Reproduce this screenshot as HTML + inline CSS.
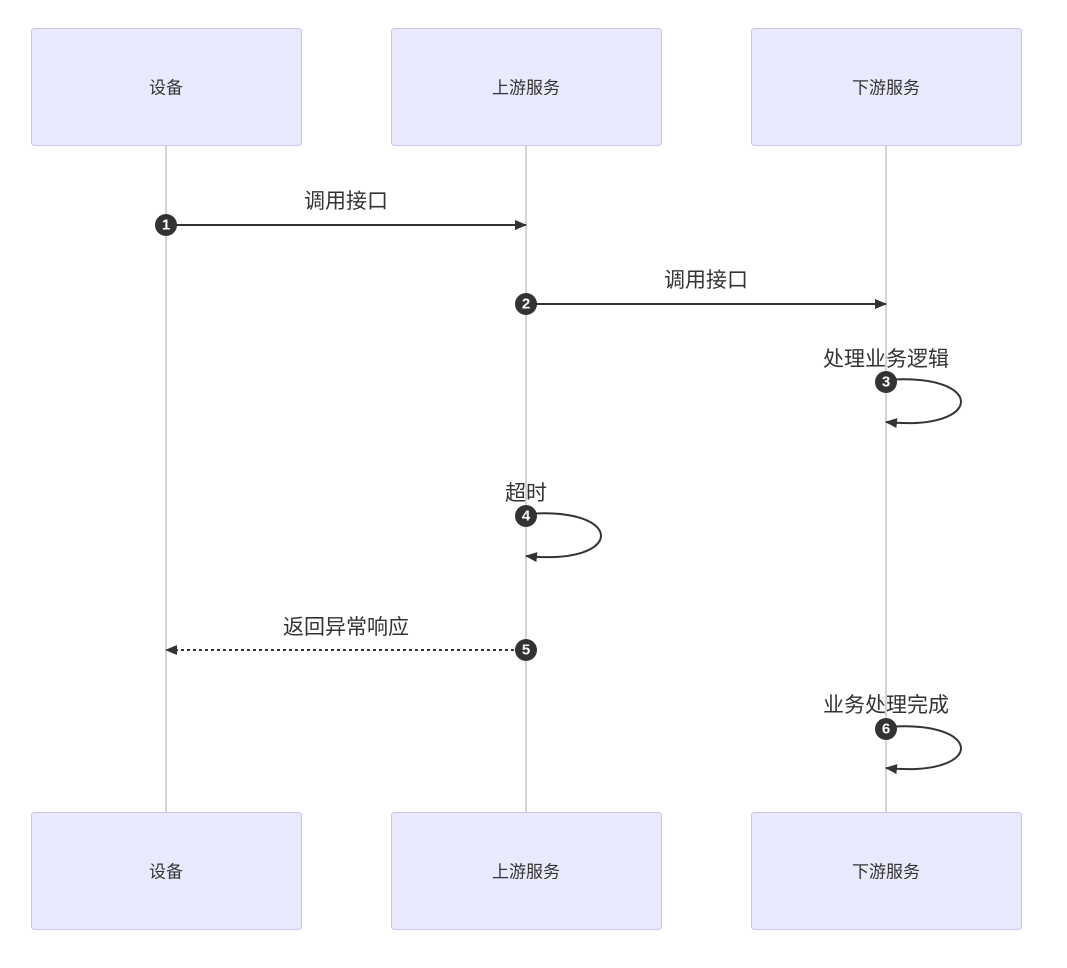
<!DOCTYPE html>
<html><head><meta charset="utf-8"><style>
html,body{margin:0;padding:0;background:#fff;}
svg text{font-family:"Liberation Sans","Noto Sans CJK SC",sans-serif;}
</style></head><body>
<svg width="1067" height="963" viewBox="0 0 1067 963" xmlns="http://www.w3.org/2000/svg">
<defs>
<marker id="a" markerWidth="12" markerHeight="12" refX="11" refY="5" orient="auto" markerUnits="userSpaceOnUse"><path d="M0,0 L12,5 L0,10 z" fill="#333"/></marker>
</defs>
<g stroke="#aaa" stroke-width="1"><line x1="166" y1="146" x2="166" y2="812"/><line x1="526" y1="146" x2="526" y2="812"/><line x1="886" y1="146" x2="886" y2="812"/></g>
<g fill="#eaeaff" stroke="#c9c7f0" stroke-width="1">
<rect x="31.5" y="28.5" width="270" height="117" rx="3"/><rect x="391.5" y="28.5" width="270" height="117" rx="3"/><rect x="751.5" y="28.5" width="270" height="117" rx="3"/>
<rect x="31.5" y="812.5" width="270" height="117" rx="3"/><rect x="391.5" y="812.5" width="270" height="117" rx="3"/><rect x="751.5" y="812.5" width="270" height="117" rx="3"/>
</g>
<g font-size="17" fill="#333" text-anchor="middle" dominant-baseline="central">
<text x="166" y="88">设备</text><text x="526" y="88">上游服务</text><text x="886" y="88">下游服务</text>
<text x="166" y="872">设备</text><text x="526" y="872">上游服务</text><text x="886" y="872">下游服务</text>
</g>
<g stroke="#333" stroke-width="2" fill="none">
<line x1="166" y1="225" x2="526" y2="225" marker-end="url(#a)"/>
<line x1="526" y1="304" x2="886" y2="304" marker-end="url(#a)"/>
<path d="M886,380 C986,372 986,432 886,422" marker-end="url(#a)"/>
<path d="M526,514 C626,506 626,566 526,556" marker-end="url(#a)"/>
<line x1="526" y1="650" x2="166" y2="650" stroke-dasharray="3,3" marker-end="url(#a)"/>
<path d="M886,727 C986,719 986,778 886,768" marker-end="url(#a)"/>
</g>
<g font-size="21" fill="#333" text-anchor="middle">
<text x="346" y="208">调用接口</text>
<text x="706" y="287">调用接口</text>
<text x="886" y="366">处理业务逻辑</text>
<text x="526" y="500">超时</text>
<text x="346" y="634">返回异常响应</text>
<text x="886" y="712">业务处理完成</text>
</g>
<g fill="#333"><circle cx="166" cy="225" r="11"/><circle cx="526" cy="304" r="11"/><circle cx="886" cy="382" r="11"/><circle cx="526" cy="516" r="11"/><circle cx="526" cy="650" r="11"/><circle cx="886" cy="729" r="11"/></g>
<g fill="#fff" font-size="15" font-weight="bold" text-anchor="middle" dominant-baseline="central">
<text x="166" y="225">1</text><text x="526" y="304">2</text><text x="886" y="382">3</text><text x="526" y="516">4</text><text x="526" y="650">5</text><text x="886" y="729">6</text>
</g>
</svg>
</body></html>
